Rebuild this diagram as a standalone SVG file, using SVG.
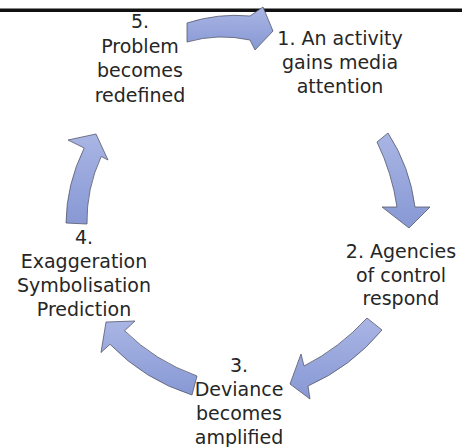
<svg xmlns="http://www.w3.org/2000/svg" width="462" height="447" viewBox="0 0 462 447">
<style>
.lbl{font-family:"DejaVu Sans","Verdana",sans-serif;font-size:19px;fill:#262626;text-anchor:middle}
.arr{fill:url(#g);stroke:#55596b;stroke-width:0.8;stroke-linejoin:miter}
</style>
<defs>
<linearGradient id="g" x1="0" y1="0" x2="0" y2="1">
<stop offset="0" stop-color="#a9b5e4"/>
<stop offset="1" stop-color="#8798d4"/>
</linearGradient>
</defs>
<rect x="0" y="8.5" width="462" height="3.5" fill="#111"/>
<g id="connectors">
<path class="arr" d="M187,23 Q218,13 250,16 L263,7 L273,31 L255,50 L250,40 Q218,33 187,42 Z"/>
<path class="arr" d="M377,142 L388,133 Q410,167 415,207 L430,207 L409,228 L382,207 L397,207 Q392,173 377,142 Z"/>
<path class="arr" d="M367,318 L382,330 Q351,367 308,386 L310,399 L290,384 L301,354 L304,366 Q339.5,348 367,318 Z"/>
<path class="arr" d="M197,376 Q155,361 124.6,330.7 L135,321 L106,322 L101,352.5 L110,344.3 Q144.5,380 192,395 Z"/>
<path class="arr" d="M66,223 L87,224 Q86.3,188.8 101.2,156.5 L108,160 L96,134 L68,140 L84.2,148 Q66.5,184 66,223 Z"/>
</g>
<g id="node1">
<text class="lbl" x="340" y="45">1. An activity</text>
<text class="lbl" x="340" y="69">gains media</text>
<text class="lbl" x="340" y="93">attention</text>
</g>
<g id="node2">
<text class="lbl" x="401" y="258">2. Agencies</text>
<text class="lbl" x="401" y="282">of control</text>
<text class="lbl" x="401" y="305">respond</text>
</g>
<g id="node3">
<text class="lbl" x="239" y="372">3.</text>
<text class="lbl" x="239" y="396">Deviance</text>
<text class="lbl" x="239" y="420">becomes</text>
<text class="lbl" x="239" y="444">amplified</text>
</g>
<g id="node4">
<text class="lbl" x="84" y="244">4.</text>
<text class="lbl" x="84" y="268">Exaggeration</text>
<text class="lbl" x="84" y="292">Symbolisation</text>
<text class="lbl" x="84" y="316">Prediction</text>
</g>
<g id="node5">
<text class="lbl" x="140" y="28">5.</text>
<text class="lbl" x="140" y="53">Problem</text>
<text class="lbl" x="140" y="77">becomes</text>
<text class="lbl" x="140" y="102">redefined</text>
</g>
</svg>
